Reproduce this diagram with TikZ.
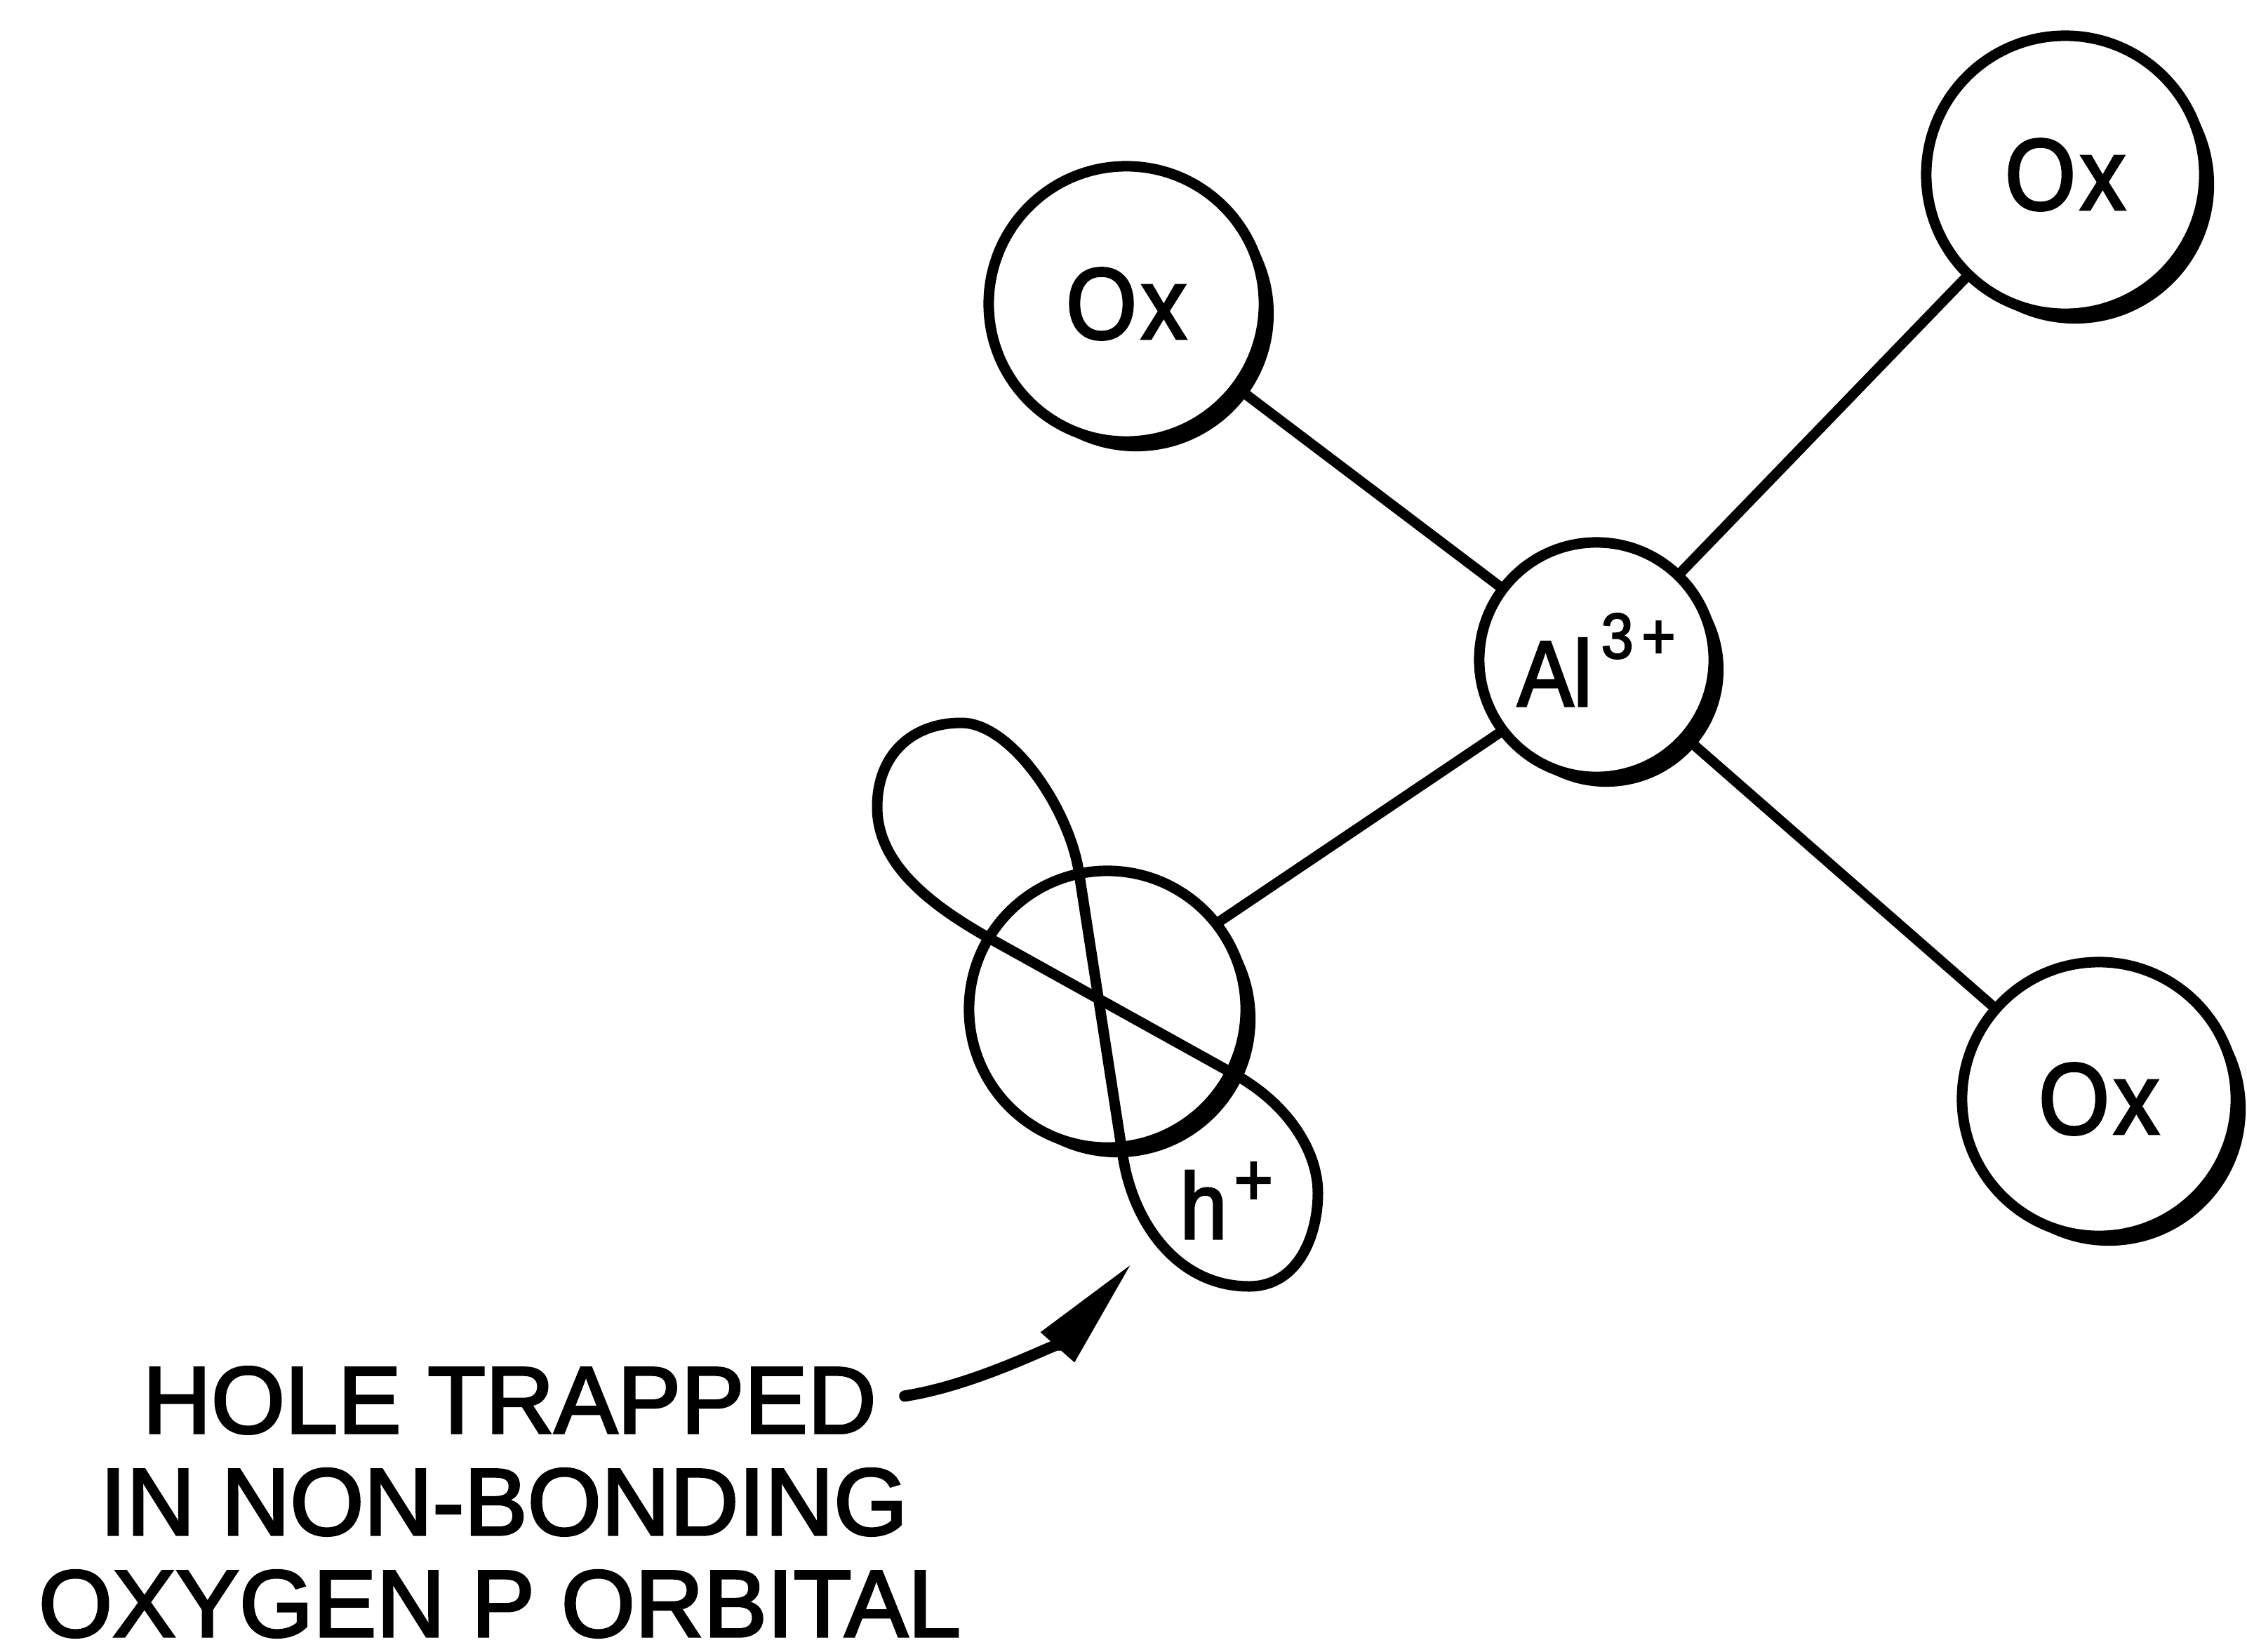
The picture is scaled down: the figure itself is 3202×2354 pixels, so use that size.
\documentclass[tikz,border=0pt]{standalone}
\usepackage{fontspec}
\newfontfamily\lettering{Liberation Sans}[FakeBold=2.5]
\newfontfamily\narrowlettering{Liberation Sans}[FakeBold=2.5, FakeStretch=0.9]
\usetikzlibrary{arrows.meta,shadows}

\begin{document}
\begin{tikzpicture}[x=0.01cm,y=-0.01cm,
  atom/.style={circle, draw, line width=0.15cm, fill=white, inner sep=0pt,
    minimum size=#1,
    general shadow={fill=black, shadow xshift=0.14cm, shadow yshift=-0.14cm}},
  oxfont/.style={font=\narrowlettering\fontsize{41pt}{42pt}\selectfont},
  bond/.style={line width=0.145cm, line cap=round},
  orb/.style={line width=0.15cm, line join=round, line cap=round},
  lab/.style={inner sep=0pt, font=\lettering\fontsize{38.5pt}{39pt}\selectfont},
  pointer/.style={line width=0.16cm, line cap=round,
    -{Triangle[length=1.6cm,width=0.6cm]}}
]
\fill[white] (0,0) rectangle (3202,2354);
\useasboundingbox (0,0) rectangle (3202,2354);

% atoms
\node[atom=3.92cm, oxfont] (ox1) at (1605,433) {O\kern0.06cm x};
\node[atom=3.96cm, oxfont] (ox2) at (2943,249) {O\kern0.06cm x};
\node[atom=3.90cm, oxfont] (ox3) at (2991,1566) {O\kern0.06cm x};
\node[atom=3.34cm, font=\narrowlettering\fontsize{37.8pt}{38pt}\selectfont] (al) at (2275,940)
  {Al\kern0.13cm\raisebox{0.68cm}{\fontsize{26pt}{26pt}\selectfont 3\kern0.12cm+}};
\node[atom=3.94cm] (o) at (1578,1438) {};

% bonds
\draw[bond] (ox1) -- (al);
\draw[bond] (ox2) -- (al);
\draw[bond] (ox3) -- (al);
\draw[bond] (o.38) -- (al.217);

% oxygen p orbital: two lobes crossing at the nucleus
\draw[orb] (1410,1337) -- (1763,1533);
\draw[orb] (1537,1240) -- (1600,1647);
\draw[orb] (1410,1337) .. controls (1323,1288) and (1250,1230) .. (1250,1150)
  .. controls (1250,1075) and (1300,1030) .. (1370,1030)
  .. controls (1440,1030) and (1522,1150) .. (1537,1240);
\draw[orb] (1600,1647) .. controls (1615,1745) and (1680,1833) .. (1780,1833)
  .. controls (1850,1833) and (1878,1760) .. (1878,1700)
  .. controls (1878,1640) and (1835,1574) .. (1763,1533);
\node[anchor=base west, inner sep=0pt, font=\narrowlettering\fontsize{38pt}{39pt}\selectfont]
  (hole) at (1681,1765) {h\kern0.1cm\raisebox{0.48cm}{\fontsize{30pt}{30pt}\selectfont +}};

% caption with pointer
\node[lab, anchor=base] (lab1) at (726,2042) {HOLE TRAPPED};
\node[lab, anchor=base] (lab2) at (718,2187) {IN NON-BONDING};
\node[lab, anchor=base] (lab3) at (712,2332) {OXYGEN P ORBITAL};
\coordinate (tip) at (1613,1800);
\draw[pointer, shorten <=0.4cm] (lab1.east) .. controls (1400,1972) and (1520,1905) .. (tip);
\end{tikzpicture}
\end{document}
